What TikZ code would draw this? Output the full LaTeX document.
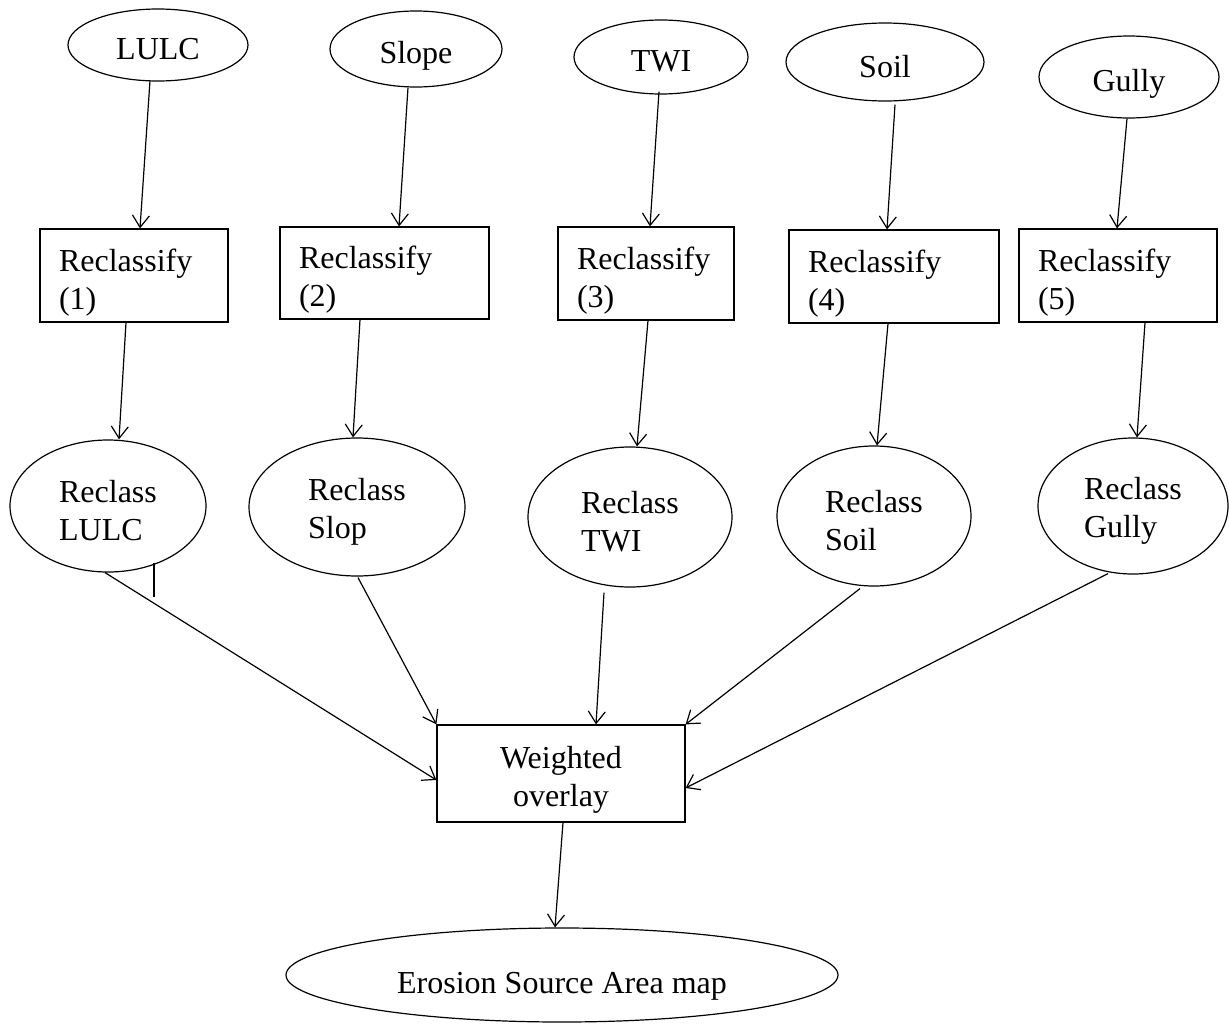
\documentclass[tikz,border=0pt]{standalone}
\usepackage{fontspec}
\setmainfont{Liberation Serif}
\usetikzlibrary{arrows.meta,calc,shapes.geometric}
\newcommand{\dnstrut}[1]{\rule{0pt}{#1}}
\begin{document}
\begin{tikzpicture}[x=1pt,y=-1pt,
  every node/.style={font=\fontsize{32}{38}\selectfont, line width=1.2pt},
  oval/.style={draw, ellipse, inner sep=0pt},
  topoval/.style={oval, text height=28pt, text depth=0pt},
  midoval/.style={oval, align=left},
  box/.style={draw, rectangle, inner xsep=19pt, inner ysep=0pt, align=left, minimum height=93pt},
  arr/.style={line width=1.2pt, -{Straight Barb[length=12pt,width=17pt]}},
  plain/.style={line width=1.2pt}
]
\useasboundingbox (0,0) rectangle (1229,1023);

% top inputs
\node[topoval, minimum width=180pt, minimum height=72pt] (lulc)  at (158,45)  {LULC};
\node[topoval, minimum width=172pt, minimum height=76pt] (slope) at (416,49)  {Slope};
\node[topoval, minimum width=174pt, minimum height=74pt] (twi)   at (661,57)  {TWI};
\node[topoval, text height=31pt, minimum width=198pt, minimum height=78pt] (soil)  at (885,62)  {Soil};
\node[topoval, minimum width=180pt, minimum height=82pt] (gully) at (1129,77) {Gully};

% reclassify boxes
\node[box, text width=150pt] (r1) at (134,275.5) {\dnstrut{36pt}Reclassify\\(1)};
\node[box, text width=171pt, minimum height=92pt] (r2) at (384.5,273) {\dnstrut{36pt}Reclassify\\(2)};
\node[box, text width=138pt] (r3) at (646,273.5) {\dnstrut{36pt}Reclassify\\(3)};
\node[box, text width=172pt] (r4) at (894,276.5) {\dnstrut{36pt}Reclassify\\(4)};
\node[box, text width=160pt] (r5) at (1118,275.5) {\dnstrut{36pt}Reclassify\\(5)};

% reclassed layers
\node[midoval, minimum width=196pt, minimum height=132pt] (m1) at (108,506)  {\dnstrut{32pt}Reclass\\LULC};
\node[midoval, minimum width=216pt, minimum height=138pt] (m2) at (357,507)  {\dnstrut{32pt}Reclass\\Slop};
\node[midoval, minimum width=204pt, minimum height=140pt] (m3) at (630,517)  {\dnstrut{32pt}Reclass\\TWI};
\node[midoval, minimum width=194pt, minimum height=140pt] (m4) at (874,516)  {\dnstrut{32pt}Reclass\\Soil};
\node[midoval, minimum width=190pt, minimum height=136pt] (m5) at (1133,506) {\dnstrut{32pt}Reclass\\Gully};

% weighted overlay and result
\node[draw, rectangle, inner sep=0pt, align=center, minimum width=248pt, minimum height=97pt] (wo) at (561,773.5) {\dnstrut{34pt}Weighted\\overlay};
\node[oval, text height=36pt, text depth=0pt, minimum width=552pt, minimum height=94pt] (ero) at (562,975) {Erosion Source Area map};

% connectors: inputs -> reclassify
\draw[arr] ($(lulc.south)+(-8,-1)$)  -- ($(r1.north)+(6,0)$);
\draw[arr] ($(slope.south)+(-8,0)$)  -- ($(r2.north)+(14.5,0)$);
\draw[arr] ($(twi.south)+(-2,-3)$)   -- ($(r3.north)+(4,0)$);
\draw[arr] ($(soil.south)+(10,3)$)   -- ($(r4.north)+(-7,0)$);
\draw[arr] ($(gully.south)+(-2,0)$)  -- ($(r5.north)+(-1,0)$);

% reclassify -> reclassed layers
\draw[arr] ($(r1.south)+(-8,0)$)   -- ($(m1.north)+(11,0)$);
\draw[arr] ($(r2.south)+(-24.5,0)$) -- ($(m2.north)+(-4,0)$);
\draw[arr] ($(r3.south)+(2,0)$)    -- ($(m3.north)+(7,0)$);
\draw[arr] ($(r4.south)+(-6,0)$)   -- ($(m4.north)+(3,0)$);
\draw[arr] ($(r5.south)+(27,0)$)   -- ($(m5.north)+(4,0)$);

% reclassed layers -> weighted overlay
\draw[arr] ($(m1.south)+(-3,0)$)   -- ($(wo.west)+(0,6.5)$);
\draw[arr] ($(m2.south)+(1,1)$)    -- (wo.north west);
\draw[arr] ($(m3.south)+(-26,5)$)  -- ($(wo.north)+(35,0)$);
\draw[arr] ($(m4.south)+(-14,2)$)  -- (wo.north east);
\draw[arr] ($(m5.south)+(-25,-1)$) -- ($(wo.east)+(0,14.5)$);

% stray tick below Reclass LULC
\draw[plain] ($(m1.south)+(46,-10)$) -- ++(0,34);

% weighted overlay -> result
\draw[arr] ($(wo.south)+(2,0)$) -- ($(ero.north)+(-7,0)$);
\end{tikzpicture}
\end{document}
